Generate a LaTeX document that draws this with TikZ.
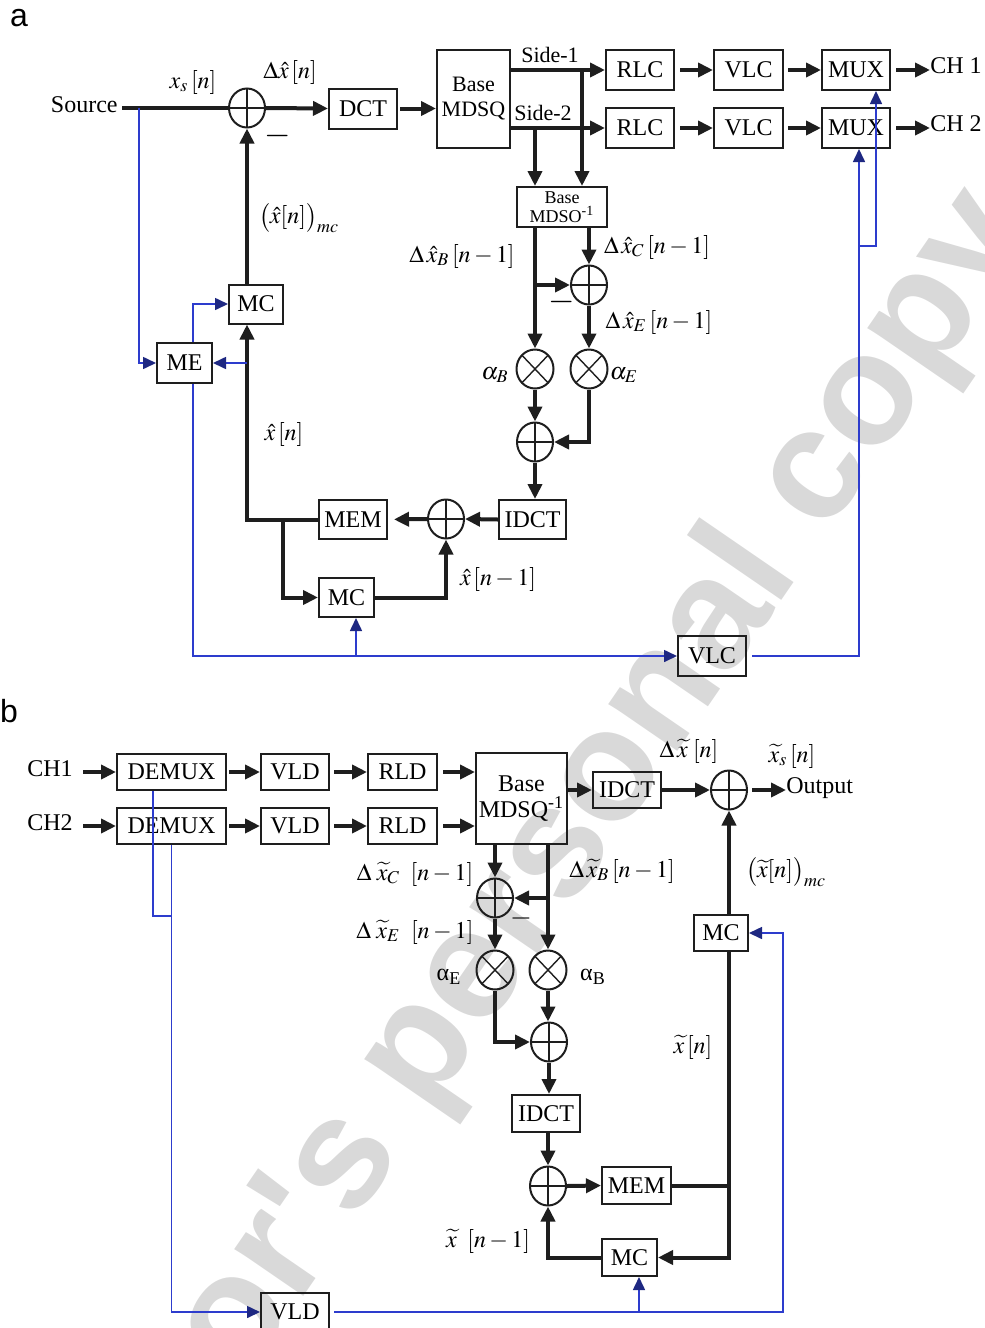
\documentclass[tikz,border=0pt]{standalone}
\usepackage{amsmath,amssymb}
\usepackage{mathptmx}
\usepackage{fontspec}
\setmainfont{Liberation Serif}
\newfontfamily\sansfam{Liberation Sans}
\usepackage{tikz}
\usepackage{xcolor}
\usetikzlibrary{arrows.meta,shapes.geometric,calc}

\definecolor{ink}{RGB}{30,30,30}
\definecolor{ctlblue}{RGB}{45,60,205}
\definecolor{ctlnavy}{RGB}{30,40,130}
\definecolor{wmgray}{RGB}{217,217,217}

\tikzset{
  blk/.style={draw=ink, line width=1pt, minimum height=20pt, inner sep=1pt, font=\fontsize{12}{13}\selectfont},
  sumnode/.style={ellipse, draw=ink, line width=1pt, minimum width=18pt, minimum height=19.5pt, inner sep=0pt,
    path picture={\draw[line width=0.7pt] (path picture bounding box.north) -- (path picture bounding box.south)
      (path picture bounding box.west) -- (path picture bounding box.east);}},
  mulnode/.style={ellipse, draw=ink, line width=1pt, minimum width=18.5pt, minimum height=19.5pt, inner sep=0pt,
    path picture={\draw[line width=0.7pt] (path picture bounding box.north west) -- (path picture bounding box.south east)
      (path picture bounding box.north east) -- (path picture bounding box.south west);}},
  sig/.style={line width=2pt, draw=ink, -{Triangle[length=7.5pt,width=7pt]}},
  wire/.style={line width=2pt, draw=ink},
  ctl/.style={line width=0.8pt, draw=ctlblue, -{Triangle[length=6.5pt,width=6pt,color=ctlnavy,fill=ctlnavy]}},
  cwire/.style={line width=0.8pt, draw=ctlblue},
  lbl/.style={font=\fontsize{12}{13}\selectfont, inner sep=0pt},
  minus/.style={font=\fontsize{17}{17}\selectfont, inner sep=0pt},
  panel/.style={font=\sansfam\fontsize{16}{16}\selectfont, inner sep=0pt}
}

\begin{document}
\begin{tikzpicture}[x=0.5pt,y=-0.5pt]
\path[use as bounding box] (0,0) rectangle (985,1328);
\clip (0,0) rectangle (985,1328);
\node[rotate=55.5, text=wmgray, font=\sansfam\bfseries\fontsize{79}{79}\selectfont] (wm) at (503,934) {Author's personal copy};

\node[panel] (pa) at (19,18) {a};
\node[lbl, anchor=east] (src) at (118,105) {Source};
\coordinate (srcout) at (122,108);
\node[sumnode] (s1) at (247,108) {};
\node[blk, minimum width=34pt] (dct) at (363,108.5) {DCT};
\node[blk, minimum width=36.5pt, minimum height=49pt, align=center, font=\fontsize{11}{12.5}\selectfont] (mdsq) at (473.5,99) {Base\\MDSQ};
\node[blk, minimum width=34pt] (rlcA) at (640,70) {RLC};
\node[blk, minimum width=34pt] (rlcB) at (640,128) {RLC};
\node[blk, minimum width=34.5pt] (vlcA) at (748.5,70) {VLC};
\node[blk, minimum width=34.5pt] (vlcB) at (748.5,128) {VLC};
\node[blk, minimum width=34pt] (muxA) at (856,70) {MUX};
\node[blk, minimum width=34pt] (muxB) at (856,128) {MUX};
\node[lbl, anchor=west] (chA) at (930,66) {CH 1};
\node[lbl, anchor=west] (chB) at (930,124) {CH 2};
\node[blk, minimum width=45pt, inner sep=0.5pt, align=center, font=\fontsize{9}{9.5}\selectfont] (mdsoi) at (562,207) {Base\\MDSO\textsuperscript{-1}};
\node[sumnode] (s2) at (589,285) {};
\node[mulnode] (mB) at (535,369) {};
\node[mulnode] (mE) at (589,369) {};
\node[sumnode] (s3) at (535,442) {};
\node[blk, minimum width=33.5pt, minimum height=19.5pt] (idct) at (532.5,519.5) {IDCT};
\node[sumnode] (s4) at (446,519) {};
\node[blk, minimum width=34pt, minimum height=19.5pt] (mem) at (353,519.5) {MEM};
\node[blk, minimum width=27.5pt, minimum height=19.5pt] (mcB) at (346.5,597.5) {MC};
\node[blk, minimum width=27pt, minimum height=19.5pt] (mc) at (256,304) {MC};
\node[blk, minimum width=27.5pt] (me) at (184.5,363) {ME};
\node[blk, minimum width=34pt] (vlcC) at (712,656) {VLC};

\draw[wire] (srcout) -- (s1.west);
\draw[sig] (s1.east) -- (dct.west);
\draw[sig, shorten <=1pt] (dct.east) -- (mdsq.west |- dct);
\draw[sig] (mdsq.east |- rlcA) -- (rlcA.west);
\draw[sig] (mdsq.east |- rlcB) -- (rlcB.west);
\draw[sig, shorten <=2.5pt] (rlcA.east) -- (vlcA.west);
\draw[sig, shorten <=2.5pt] (rlcB.east) -- (vlcB.west);
\draw[sig, shorten <=2pt] (vlcA.east) -- (muxA.west);
\draw[sig, shorten <=2pt] (vlcB.east) -- (muxB.west);
\draw[sig, shorten <=2.5pt] (muxA.east) -- (muxA.east -| chA.west);
\draw[sig, shorten <=2.5pt] (muxB.east) -- (muxB.east -| chB.west);
\coordinate (tapA) at (582,70);
\coordinate (tapB) at (535,128);
\draw[sig] (tapA) -- (tapA |- mdsoi.north);
\draw[sig] (tapB) -- (tapB |- mdsoi.north);
\draw[sig] (s2 |- mdsoi.south) -- (s2.north);
\draw[sig] (mB |- mdsoi.south) -- (mB.north);
\draw[sig] (mB |- s2) -- (s2.west);
\draw[sig] (s2.south) -- (mE.north);
\draw[sig] (mB.south) -- (s3.north);
\draw[sig] (mE.south) |- (s3.east);
\draw[sig] (s3.south) -- (s3 |- idct.north);
\draw[sig] (idct.west) -- (s4.east);
\draw[sig, shorten >=3pt] (s4.west) -- (mem.east);
\draw[sig] (mem.west) -| (s1 |- mc.south);
\draw[sig] (s1 |- mc.north) -- (s1.south);
\coordinate (jmem) at (283,519.5);
\draw[sig] (jmem) |- (mcB.west);
\draw[sig] (mcB.east) -| (s4.south);

\coordinate (tapS) at (139,108);
\draw[ctl] (tapS) |- (me.west);
\draw[ctl] ([xshift=4.25pt]me.north) |- (mc.west);
\draw[ctl] (s1 |- me) -- (me.east);
\draw[ctl] ([xshift=4.25pt]me.south) |- (vlcC.west);
\coordinate (tapM) at (356,656);
\draw[ctl] (tapM) -- (tapM |- mcB.south);
\coordinate (tapX) at (859,246);
\coordinate (tapY) at (876,246);
\draw[ctl, shorten <=2.5pt] (vlcC.east) -| (tapX |- muxB.south);
\draw[ctl] (tapX) -- (tapY) -- (tapY |- muxA.south);

\node[minus] (mn1) at (278,136) {$-$};
\node[minus] (mn2) at (562,302) {$-$};
\node[lbl] (lxs) at (193,82) {$x_s\,[n]$};
\node[lbl] (ldx) at (290,72) {$\Delta\hat{x}\,[n]$};
\node[lbl] (lxmc) at (299,218) {$\big(\hat{x}[n]\big)_{mc}$};
\node[lbl, font=\fontsize{11}{12}\selectfont] (lsa) at (550,55) {Side-1};
\node[lbl, font=\fontsize{11}{12}\selectfont] (lsb) at (543,113) {Side-2};
\node[lbl] (ldxb) at (462,256) {$\Delta\,\hat{x}_B\,[n-1]$};
\node[lbl] (ldxc) at (657,247) {$\Delta\,\hat{x}_C\,[n-1]$};
\node[lbl] (ldxe) at (659,322) {$\Delta\,\hat{x}_E\,[n-1]$};
\node[lbl] (lab) at (495,375) {$\alpha_B$};
\node[lbl] (lae) at (624,375) {$\alpha_E$};
\node[lbl] (lxn) at (284,434) {$\hat{x}\,[n]$};
\node[lbl] (lxp) at (498,579) {$\hat{x}\,[n-1]$};

\node[panel] (pb) at (9,711) {b};
\node[lbl] (chi) at (50,769) {CH1};
\node[lbl] (chii) at (50,823) {CH2};
\node[blk, minimum width=54.5pt, minimum height=18pt] (dmxA) at (171.5,772) {DEMUX};
\node[blk, minimum width=54.5pt, minimum height=18pt] (dmxB) at (171.5,826) {DEMUX};
\node[blk, minimum width=34pt, minimum height=18pt] (vldA) at (295,772) {VLD};
\node[blk, minimum width=34pt, minimum height=18pt] (vldB) at (295,826) {VLD};
\node[blk, minimum width=34.5pt, minimum height=18pt] (rldA) at (402.5,772) {RLD};
\node[blk, minimum width=34.5pt, minimum height=18pt] (rldB) at (402.5,826) {RLD};
\node[blk, minimum width=45.5pt, minimum height=45.5pt, align=center] (mdsqi) at (521.5,798.5) {Base\\MDSQ\textsuperscript{-1}};
\node[blk, minimum width=34pt, minimum height=18pt] (idctA) at (627,790) {IDCT};
\node[sumnode] (so) at (729,790) {};
\node[lbl, anchor=west] (out) at (786,788) {Output};
\node[sumnode] (sb) at (495,898) {};
\node[mulnode] (mEb) at (495,970) {};
\node[mulnode] (mBb) at (548,970) {};
\node[sumnode] (s5) at (549,1042) {};
\node[blk, minimum width=34pt, minimum height=18.5pt] (idctB) at (546,1113.5) {IDCT};
\node[sumnode] (s6) at (548,1186) {};
\node[blk, minimum width=34.5pt, minimum height=18.5pt] (memb) at (636.5,1185.5) {MEM};
\node[blk, minimum width=27.5pt, minimum height=18.5pt] (mcC) at (629.5,1257.5) {MC};
\node[blk, minimum width=27pt, minimum height=18pt] (mcb) at (721,933) {MC};
\node[blk, minimum width=34pt, minimum height=19pt] (vldC) at (295,1312) {VLD};

\draw[sig, shorten <=5pt] (chi.east |- dmxA) -- (dmxA.west);
\draw[sig, shorten <=5pt] (chii.east |- dmxB) -- (dmxB.west);
\draw[sig, shorten <=1pt] (dmxA.east) -- (vldA.west);
\draw[sig, shorten <=1pt] (dmxB.east) -- (vldB.west);
\draw[sig, shorten <=2pt] (vldA.east) -- (rldA.west);
\draw[sig, shorten <=2pt] (vldB.east) -- (rldB.west);
\draw[sig, shorten <=2.5pt] (rldA.east) -- (mdsqi.west |- rldA);
\draw[sig, shorten <=2.5pt] (rldB.east) -- (mdsqi.west |- rldB);
\draw[sig] (mdsqi.east |- idctA) -- (idctA.west);
\draw[sig] (idctA.east) -- (so.west);
\draw[sig, shorten <=2pt] (so.east) -- (out.west |- so);
\draw[sig] (sb |- mdsqi.south) -- (sb.north);
\draw[sig] (mBb |- mdsqi.south) -- (mBb.north);
\draw[sig] (mBb |- sb) -- (sb.east);
\draw[sig] (sb.south) -- (mEb.north);
\draw[sig] (mEb.south) |- (s5.west);
\draw[sig] (mBb.south) -- (mBb |- s5.north);
\draw[sig] (s5.south) -- (s5 |- idctB.north);
\draw[sig] (s6 |- idctB.south) -- (s6.north);
\draw[sig] (s6.east) -- (memb.west);
\draw[wire] (memb.east) -- (so |- memb);
\draw[sig] (so |- mcb.south) |- (mcC.east);
\draw[sig] (mcC.west) -| (s6.south);
\draw[sig] (so |- mcb.north) -- (so.south);

\coordinate (jd) at (171,916);
\draw[cwire] ([xshift=-9.25pt]dmxA.south) |- (jd);
\draw[ctl] (dmxB.south) |- (vldC.west);
\coordinate (jr) at (783,1312);
\coordinate (jm) at (639,1312);
\draw[ctl, shorten <=2pt] (vldC.east) -- (jr) |- (mcb.east);
\draw[ctl] (jm) -- (jm |- mcC.south);

\node[minus, font=\fontsize{14}{14}\selectfont] (mn3) at (521,918) {$-$};
\node[lbl] (ldxt) at (689,751) {$\Delta\,\widetilde{x}\;[n]$};
\node[lbl] (lxts) at (792,756) {$\widetilde{x}_s\,[n]$};
\node[lbl] (ldxtb) at (622,871) {$\Delta\,\widetilde{x}_B\,[n-1]$};
\node[lbl] (lxtmc) at (786,872) {$\big(\widetilde{x}[n]\big)_{mc}$};
\node[lbl] (ldxtc) at (415,874) {$\Delta\;\widetilde{x}_C\;\;[n-1]$};
\node[lbl] (ldxte) at (415,932) {$\Delta\;\widetilde{x}_E\;\;[n-1]$};
\node[lbl] (labe) at (449,977) {α\textsubscript{E}};
\node[lbl] (labb) at (593,977) {α\textsubscript{B}};
\node[lbl] (lxtn) at (693,1047) {$\widetilde{x}\,[n]$};
\node[lbl] (lxtp) at (488,1241) {$\widetilde{x}\;\;[n-1]$};
\end{tikzpicture}
\end{document}
